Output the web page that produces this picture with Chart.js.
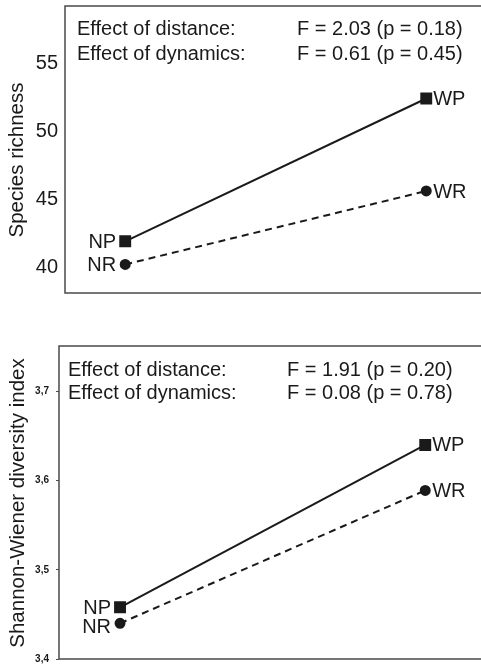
<!DOCTYPE html>
<html>
<head>
<meta charset="utf-8">
<script src="https://cdn.jsdelivr.net/npm/chart.js@4.4.0/dist/chart.umd.min.js"></script>
<style>
  html, body { margin: 0; padding: 0; background: #fff; overflow: hidden; width: 481px; height: 666px; }
  .panel { position: absolute; left: 0; width: 500px; }
  #top { top: 0; height: 300px; }
  #bottom { top: 340px; height: 326px; }
</style>
</head>
<body>
<div class="panel" id="top"><canvas id="richChart"></canvas></div>
<div class="panel" id="bottom"><canvas id="shanChart"></canvas></div>
<script>
// site positions: N = near, W = wide
const sites = [0, 1];
const pLabels = ['NP', 'WP'];
const rLabels = ['NR', 'WR'];
const effects = ['Effect of distance:', 'Effect of dynamics:'];

const richnessP = [41.9, 52.4];
const richnessR = [40.2, 45.6];
const richnessTicks = [40, 45, 50, 55];
const richnessStats = ['F = 2.03 (p = 0.18)', 'F = 0.61 (p = 0.45)'];

const shannonP = [3.458, 3.640];
const shannonR = [3.440, 3.589];
const shannonTicks = [3.4, 3.5, 3.6, 3.7];
const shannonStats = ['F = 1.91 (p = 0.20)', 'F = 0.08 (p = 0.78)'];

const FONT = '"Liberation Sans", Arial, Helvetica, sans-serif';
const INK = '#1a1a1a';

const panelPlugin = {
  id: 'panel',
  afterDraw(chart, args, opts) {
    const { ctx, chartArea: a } = chart;
    ctx.save();
    // frame (left, top, bottom)
    ctx.strokeStyle = '#4a4a4a';
    ctx.lineWidth = 1.5;
    ctx.beginPath();
    ctx.moveTo(a.right, a.top);
    ctx.lineTo(a.left, a.top);
    ctx.lineTo(a.left, a.bottom);
    ctx.lineTo(a.right, a.bottom);
    ctx.stroke();

    ctx.fillStyle = INK;
    ctx.font = '20px ' + FONT;
    ctx.textBaseline = 'middle';
    // stats text
    effects.forEach((t, i) => {
      ctx.textAlign = 'left';
      ctx.fillText(t, a.left + opts.statX[0], a.top + opts.statY[i]);
      ctx.fillText(opts.stats[i], a.left + opts.statX[1], a.top + opts.statY[i]);
    });
    // point labels
    [pLabels, rLabels].forEach((labels, d) => {
      chart.getDatasetMeta(d).data.forEach((pt, j) => {
        if (j === 0) {
          ctx.textAlign = 'right';
          ctx.fillText(labels[j], pt.x - 9, pt.y + 1 + opts.labelDy[d]);
        } else {
          ctx.textAlign = 'left';
          ctx.fillText(labels[j], pt.x + 7, pt.y + 1);
        }
      });
    });
    // axis title
    ctx.translate(opts.titleX, opts.titleY);
    ctx.rotate(-Math.PI / 2);
    ctx.textAlign = 'center';
    ctx.font = '20.5px ' + FONT;
    ctx.fillText(opts.title, 0, 0);
    ctx.restore();
  }
};

function makeChart(id, pVals, rVals, ticks, yMin, yMax, axisW, tickOpts, gridOpts, panelOpts, padTop, padBottom) {
  return new Chart(document.getElementById(id), {
    type: 'line',
    data: {
      datasets: [
        {
          data: sites.map((x, i) => ({ x, y: pVals[i] })),
          borderColor: INK, backgroundColor: INK, borderWidth: 2,
          pointStyle: 'rect', pointRadius: 7, pointHoverRadius: 7
        },
        {
          data: sites.map((x, i) => ({ x, y: rVals[i] })),
          borderColor: INK, backgroundColor: INK, borderWidth: 2, borderDash: [7, 5],
          pointStyle: 'circle', pointRadius: 4.5, pointHoverRadius: 4.5
        }
      ]
    },
    options: {
      responsive: true,
      maintainAspectRatio: false,
      animation: false,
      layout: { autoPadding: false, padding: { top: padTop, bottom: padBottom, left: 0, right: 0 } },
      plugins: { legend: { display: false }, tooltip: { enabled: false }, panel: panelOpts },
      scales: {
        x: { type: 'linear', min: -0.2, max: 1.245, display: false },
        y: {
          min: yMin, max: yMax,
          border: { display: false },
          grid: gridOpts,
          ticks: tickOpts,
          afterBuildTicks: s => { s.ticks = ticks.map(v => ({ value: v })); },
          afterFit: s => { s.width = axisW; s.paddingTop = 0; s.paddingBottom = 0; }
        }
      }
    },
    plugins: [panelPlugin]
  });
}

makeChart('richChart', richnessP, richnessR, richnessTicks, 38.1, 59.2, 65,
  { color: INK, padding: 7, font: { family: FONT, size: 20 } },
  { display: true, drawOnChartArea: false, drawTicks: false },
  { stats: richnessStats, statX: [12, 232], statY: [23, 48], labelDy: [0, 0],
    title: 'Species richness', titleX: 17, titleY: 160 },
  6, 7);

makeChart('shanChart', shannonP, shannonR, shannonTicks, 3.4, 3.751, 59,
  { color: INK, padding: 7, font: { family: FONT, size: 10, weight: 'bold' }, callback: v => String(v.toFixed(1)).replace('.', ',') },
  { display: true, drawOnChartArea: false, drawTicks: true, tickLength: 3, color: '#4a4a4a', lineWidth: 1 },
  { stats: shannonStats, statX: [9, 228], statY: [24, 47], labelDy: [0, 3],
    title: 'Shannon-Wiener diversity index', titleX: 18, titleY: 163 },
  6, 7);
</script>
</body>
</html>
